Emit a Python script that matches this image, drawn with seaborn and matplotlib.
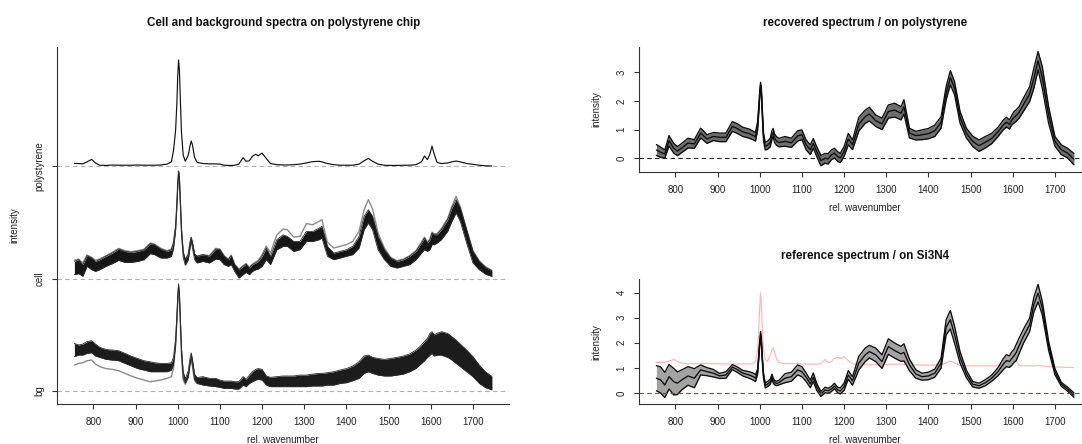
import numpy as np
import matplotlib
matplotlib.use("Agg")
import matplotlib.pyplot as plt
import seaborn as sns

# ---------------------------------------------------------------------------
# Spectral data (relative wavenumber grid shared by every series)
# ---------------------------------------------------------------------------
wavenumber = [
    755, 765, 775, 785, 796, 805, 815, 830, 845, 860,
    875, 890, 905, 920, 935, 945, 960, 975, 985, 990,
    995, 998, 1000, 1002, 1004, 1006, 1009, 1013, 1018, 1025,
    1029, 1032, 1035, 1040, 1046, 1060, 1075, 1090, 1100, 1110,
    1120, 1127, 1135, 1145, 1155, 1162, 1170, 1177, 1185, 1191,
    1200, 1210, 1220, 1235, 1250, 1260, 1275, 1290, 1305, 1320,
    1335, 1342, 1355, 1370, 1385, 1400, 1415, 1430, 1442, 1452,
    1462, 1475, 1490, 1505, 1520, 1535, 1550, 1565, 1578, 1585,
    1592, 1598, 1603, 1608, 1615, 1625, 1640, 1650, 1660, 1670,
    1685, 1700, 1715, 1730, 1745]

# polystyrene chip spectrum (normalised)
polystyrene = [
    0.027, 0.025, 0.022, 0.040, 0.062, 0.030, 0.010, 0.008, 0.012, 0.010,
    0.010, 0.010, 0.012, 0.010, 0.010, 0.010, 0.012, 0.020, 0.040, 0.140,
    0.320, 0.560, 0.800, 0.946, 0.860, 0.620, 0.300, 0.100, 0.045, 0.100,
    0.180, 0.225, 0.190, 0.080, 0.035, 0.025, 0.022, 0.022, 0.020, 0.010,
    0.008, 0.008, 0.010, 0.020, 0.077, 0.045, 0.050, 0.090, 0.107, 0.095,
    0.118, 0.070, 0.025, 0.015, 0.012, 0.012, 0.015, 0.020, 0.030, 0.042,
    0.045, 0.040, 0.025, 0.015, 0.010, 0.010, 0.010, 0.020, 0.050, 0.071,
    0.045, 0.020, 0.010, 0.008, 0.008, 0.010, 0.010, 0.015, 0.040, 0.092,
    0.060, 0.110, 0.180, 0.110, 0.035, 0.025, 0.030, 0.040, 0.047, 0.040,
    0.025, 0.018, 0.010, 0.005, 0.003]

# cell spectra: envelope of the bulk of the spectra plus one deviating spectrum
cell_upper = [
    0.154, 0.169, 0.125, 0.205, 0.184, 0.154, 0.169, 0.200, 0.228, 0.264,
    0.243, 0.234, 0.243, 0.258, 0.312, 0.303, 0.264, 0.243, 0.258, 0.320,
    0.470, 0.680, 0.850, 0.960, 0.900, 0.720, 0.440, 0.240, 0.170, 0.220,
    0.320, 0.370, 0.320, 0.220, 0.200, 0.214, 0.200, 0.264, 0.258, 0.200,
    0.170, 0.205, 0.125, 0.080, 0.110, 0.130, 0.095, 0.125, 0.140, 0.154,
    0.200, 0.273, 0.200, 0.347, 0.390, 0.377, 0.332, 0.332, 0.420, 0.420,
    0.450, 0.466, 0.288, 0.228, 0.243, 0.258, 0.288, 0.377, 0.555, 0.614,
    0.555, 0.377, 0.258, 0.184, 0.154, 0.169, 0.200, 0.243, 0.318, 0.362,
    0.318, 0.347, 0.407, 0.392, 0.392, 0.436, 0.525, 0.629, 0.703, 0.629,
    0.436, 0.243, 0.154, 0.100, 0.070]
cell_lower = [
    0.036, 0.045, 0.021, 0.110, 0.080, 0.065, 0.080, 0.110, 0.134, 0.163,
    0.145, 0.145, 0.154, 0.169, 0.223, 0.214, 0.184, 0.184, 0.199, 0.270,
    0.430, 0.640, 0.810, 0.940, 0.860, 0.680, 0.390, 0.190, 0.120, 0.170,
    0.270, 0.330, 0.270, 0.170, 0.140, 0.154, 0.140, 0.175, 0.169, 0.125,
    0.110, 0.125, 0.065, 0.006, 0.036, 0.056, 0.036, 0.065, 0.080, 0.086,
    0.110, 0.170, 0.125, 0.258, 0.288, 0.288, 0.243, 0.258, 0.332, 0.332,
    0.347, 0.362, 0.200, 0.169, 0.184, 0.200, 0.214, 0.273, 0.436, 0.496,
    0.436, 0.258, 0.169, 0.110, 0.095, 0.110, 0.125, 0.169, 0.228, 0.258,
    0.243, 0.258, 0.303, 0.303, 0.318, 0.347, 0.421, 0.510, 0.585, 0.510,
    0.318, 0.140, 0.080, 0.040, 0.020]
cell_outlier = [
    0.165, 0.175, 0.140, 0.210, 0.190, 0.165, 0.175, 0.205, 0.235, 0.270,
    0.250, 0.240, 0.250, 0.262, 0.318, 0.308, 0.270, 0.250, 0.262, 0.325,
    0.460, 0.670, 0.840, 0.955, 0.890, 0.710, 0.430, 0.230, 0.165, 0.215,
    0.315, 0.365, 0.315, 0.215, 0.200, 0.215, 0.205, 0.270, 0.265, 0.205,
    0.175, 0.210, 0.130, 0.085, 0.115, 0.135, 0.100, 0.130, 0.150, 0.165,
    0.215, 0.290, 0.230, 0.390, 0.442, 0.436, 0.370, 0.377, 0.490, 0.480,
    0.510, 0.525, 0.323, 0.273, 0.288, 0.303, 0.332, 0.421, 0.614, 0.703,
    0.620, 0.407, 0.273, 0.190, 0.160, 0.175, 0.205, 0.250, 0.325, 0.370,
    0.325, 0.355, 0.415, 0.400, 0.400, 0.445, 0.535, 0.645, 0.733, 0.640,
    0.440, 0.250, 0.160, 0.105, 0.075]

# background spectra
bg_upper = [
    0.424, 0.410, 0.418, 0.440, 0.448, 0.418, 0.389, 0.370, 0.365, 0.359,
    0.335, 0.310, 0.290, 0.270, 0.260, 0.252, 0.246, 0.246, 0.252, 0.300,
    0.470, 0.680, 0.850, 0.955, 0.880, 0.680, 0.380, 0.170, 0.110, 0.180,
    0.290, 0.340, 0.280, 0.150, 0.120, 0.128, 0.113, 0.113, 0.098, 0.089,
    0.089, 0.089, 0.083, 0.083, 0.128, 0.104, 0.142, 0.172, 0.193, 0.200,
    0.193, 0.134, 0.122, 0.128, 0.134, 0.134, 0.134, 0.142, 0.142, 0.151,
    0.157, 0.157, 0.163, 0.172, 0.187, 0.200, 0.223, 0.261, 0.312, 0.320,
    0.300, 0.290, 0.282, 0.290, 0.300, 0.312, 0.330, 0.365, 0.410, 0.440,
    0.469, 0.513, 0.528, 0.500, 0.513, 0.528, 0.513, 0.484, 0.454, 0.418,
    0.365, 0.306, 0.231, 0.170, 0.130]
bg_lower = [
    0.306, 0.320, 0.320, 0.335, 0.341, 0.312, 0.300, 0.282, 0.276, 0.270,
    0.246, 0.223, 0.200, 0.187, 0.172, 0.172, 0.172, 0.172, 0.187, 0.240,
    0.420, 0.640, 0.810, 0.940, 0.850, 0.640, 0.330, 0.120, 0.070, 0.130,
    0.240, 0.300, 0.230, 0.100, 0.070, 0.053, 0.045, 0.039, 0.033, 0.024,
    0.024, 0.024, 0.018, 0.018, 0.053, 0.039, 0.068, 0.083, 0.098, 0.104,
    0.098, 0.053, 0.039, 0.039, 0.039, 0.039, 0.039, 0.039, 0.039, 0.045,
    0.045, 0.045, 0.053, 0.053, 0.068, 0.074, 0.092, 0.113, 0.157, 0.172,
    0.157, 0.142, 0.134, 0.134, 0.142, 0.151, 0.172, 0.202, 0.246, 0.270,
    0.300, 0.320, 0.335, 0.312, 0.320, 0.320, 0.300, 0.276, 0.246, 0.217,
    0.172, 0.128, 0.068, 0.030, 0.010]
bg_outlier = [
    0.231, 0.246, 0.252, 0.270, 0.276, 0.240, 0.217, 0.200, 0.193, 0.181,
    0.157, 0.134, 0.113, 0.098, 0.083, 0.089, 0.098, 0.113, 0.128, 0.200,
    0.400, 0.620, 0.790, 0.920, 0.830, 0.620, 0.310, 0.100, 0.060, 0.120,
    0.230, 0.285, 0.220, 0.095, 0.065, 0.060, 0.055, 0.050, 0.045, 0.040,
    0.040, 0.040, 0.035, 0.035, 0.070, 0.055, 0.085, 0.100, 0.115, 0.120,
    0.115, 0.070, 0.055, 0.055, 0.055, 0.055, 0.055, 0.060, 0.060, 0.065,
    0.065, 0.065, 0.070, 0.075, 0.085, 0.095, 0.110, 0.135, 0.175, 0.190,
    0.175, 0.160, 0.150, 0.150, 0.160, 0.170, 0.190, 0.220, 0.265, 0.290,
    0.320, 0.345, 0.360, 0.335, 0.345, 0.345, 0.325, 0.300, 0.270, 0.240,
    0.195, 0.150, 0.090, 0.050, 0.030]

# recovered cell spectrum on polystyrene: mean and standard deviation
recovered_mean = [
    0.29, 0.21, 0.15, 0.61, 0.35, 0.25, 0.36, 0.53, 0.50, 0.88,
    0.67, 0.76, 0.73, 0.73, 1.11, 1.05, 0.92, 0.86, 0.79, 0.75,
    1.12, 1.75, 2.22, 2.56, 2.32, 1.65, 0.75, 0.42, 0.45, 0.55,
    0.82, 0.90, 0.70, 0.60, 0.55, 0.59, 0.54, 0.78, 0.82, 0.47,
    0.30, 0.52, 0.24, -0.08, 0.00, -0.02, 0.12, 0.18, 0.06, 0.01,
    0.24, 0.67, 0.47, 1.19, 1.45, 1.54, 1.31, 1.20, 1.63, 1.68,
    1.57, 1.79, 0.88, 0.79, 0.82, 0.86, 0.96, 1.25, 2.27, 2.81,
    2.44, 1.43, 0.88, 0.59, 0.44, 0.56, 0.69, 0.92, 1.17, 1.26,
    1.18, 1.34, 1.43, 1.49, 1.60, 1.86, 2.24, 2.79, 3.40, 2.82,
    1.51, 0.59, 0.30, 0.18, -0.03]
recovered_sd = [
    0.19, 0.18, 0.14, 0.18, 0.17, 0.16, 0.16, 0.17, 0.15, 0.17,
    0.15, 0.14, 0.15, 0.15, 0.17, 0.17, 0.16, 0.16, 0.15, 0.15,
    0.15, 0.12, 0.10, 0.09, 0.10, 0.12, 0.14, 0.13, 0.14, 0.15,
    0.15, 0.14, 0.15, 0.15, 0.15, 0.17, 0.16, 0.18, 0.17, 0.17,
    0.17, 0.17, 0.17, 0.18, 0.17, 0.18, 0.17, 0.17, 0.17, 0.16,
    0.17, 0.20, 0.17, 0.24, 0.23, 0.24, 0.20, 0.20, 0.23, 0.24,
    0.23, 0.25, 0.17, 0.15, 0.17, 0.18, 0.20, 0.20, 0.23, 0.25,
    0.23, 0.20, 0.17, 0.18, 0.20, 0.20, 0.18, 0.16, 0.17, 0.17,
    0.16, 0.17, 0.20, 0.20, 0.20, 0.23, 0.26, 0.35, 0.32, 0.38,
    0.29, 0.17, 0.17, 0.17, 0.20]

# reference cell spectrum measured on Si3N4: mean and standard deviation
reference_mean = [
    0.59, 0.52, 0.32, 0.65, 0.45, 0.39, 0.52, 0.68, 0.59, 0.92,
    0.85, 0.79, 0.68, 0.72, 1.03, 0.95, 0.79, 0.72, 0.65, 0.59,
    0.85, 1.50, 2.00, 2.30, 2.05, 1.40, 0.70, 0.30, 0.35, 0.45,
    0.65, 0.50, 0.42, 0.38, 0.42, 0.59, 0.65, 0.92, 0.85, 0.63,
    0.36, 0.63, 0.25, -0.04, 0.12, 0.09, 0.16, 0.28, 0.12, 0.08,
    0.25, 0.72, 0.48, 1.19, 1.52, 1.65, 1.52, 1.25, 1.85, 1.69,
    1.56, 1.62, 1.12, 0.76, 0.65, 0.68, 0.79, 1.19, 2.62, 2.92,
    2.32, 1.42, 0.76, 0.35, 0.29, 0.41, 0.59, 0.85, 1.16, 1.29,
    1.25, 1.38, 1.48, 1.61, 1.88, 2.25, 2.72, 3.52, 3.98, 3.38,
    1.88, 0.85, 0.35, 0.15, -0.08]
reference_sd = [
    0.50, 0.52, 0.50, 0.49, 0.53, 0.45, 0.40, 0.37, 0.38, 0.20,
    0.16, 0.15, 0.10, 0.13, 0.10, 0.11, 0.11, 0.13, 0.14, 0.14,
    0.10, 0.10, 0.10, 0.15, 0.15, 0.10, 0.10, 0.10, 0.10, 0.10,
    0.10, 0.10, 0.09, 0.09, 0.09, 0.18, 0.18, 0.20, 0.20, 0.17,
    0.15, 0.17, 0.14, 0.10, 0.11, 0.10, 0.10, 0.11, 0.11, 0.12,
    0.14, 0.17, 0.17, 0.27, 0.27, 0.25, 0.27, 0.27, 0.31, 0.30,
    0.30, 0.34, 0.23, 0.17, 0.14, 0.15, 0.16, 0.20, 0.30, 0.37,
    0.34, 0.23, 0.15, 0.11, 0.10, 0.12, 0.12, 0.16, 0.22, 0.24,
    0.23, 0.27, 0.26, 0.32, 0.31, 0.28, 0.27, 0.29, 0.35, 0.27,
    0.18, 0.12, 0.08, 0.08, 0.09]

# polystyrene spectrum on the intensity scale of the Si3N4 reference
polystyrene_overlay = [
    1.22, 1.22, 1.22, 1.27, 1.34, 1.25, 1.19, 1.16, 1.17, 1.17,
    1.17, 1.17, 1.16, 1.16, 1.16, 1.16, 1.16, 1.16, 1.17, 1.25,
    1.72, 2.60, 3.40, 4.00, 3.50, 2.60, 1.72, 1.34, 1.25, 1.52,
    1.72, 1.81, 1.65, 1.34, 1.21, 1.17, 1.17, 1.17, 1.16, 1.15,
    1.15, 1.15, 1.15, 1.16, 1.34, 1.21, 1.25, 1.38, 1.42, 1.38,
    1.45, 1.29, 1.16, 1.14, 1.13, 1.13, 1.13, 1.13, 1.14, 1.15,
    1.15, 1.14, 1.13, 1.12, 1.11, 1.11, 1.11, 1.12, 1.19, 1.28,
    1.19, 1.10, 1.08, 1.08, 1.08, 1.08, 1.08, 1.08, 1.12, 1.21,
    1.15, 1.30, 1.52, 1.30, 1.10, 1.08, 1.08, 1.08, 1.09, 1.08,
    1.06, 1.04, 1.03, 1.02, 1.01]

stack_labels = ["bg", "cell", "polystyrene"]
x_ticks = [800, 900, 1000, 1100, 1200, 1300, 1400, 1500, 1600, 1700]

# ---------------------------------------------------------------------------
# Figure
# ---------------------------------------------------------------------------
sns.set_theme(style="ticks")
plt.rcParams["font.family"] = ["Liberation Sans", "DejaVu Sans"]
plt.rcParams["axes.facecolor"] = "white"
plt.rcParams["figure.facecolor"] = "white"

W, H = 1082, 444
fig = plt.figure(figsize=(W / 100, H / 100), dpi=100)

AXIS_COLOR = "#333333"
FS = 7.0


def add_axes_px(left, top, right, bottom):
    return fig.add_axes([left / W, 1 - bottom / H, (right - left) / W, (bottom - top) / H])


def style_axes(ax, width_px, height_px, title, ylabel):
    ax.spines["top"].set_visible(False)
    ax.spines["right"].set_visible(False)
    for side in ("left", "bottom"):
        ax.spines[side].set_color(AXIS_COLOR)
        ax.spines[side].set_linewidth(0.8)
    ax.set_xlim(714.5, 1785.5)
    ax.set_xticks(x_ticks)
    ax.tick_params(axis="both", direction="out", length=3.6, width=0.8,
                   color=AXIS_COLOR, labelsize=FS, labelcolor="#222222")
    ax.tick_params(axis="x", pad=5.4)
    ax.tick_params(axis="y", pad=5.6, labelrotation=90)
    for lab in ax.get_yticklabels():
        lab.set_va("center")
    ax.set_xlabel("rel. wavenumber", fontsize=FS, color="#222222", va="center")
    ax.xaxis.set_label_coords(0.5, -36.0 / height_px)
    ax.set_ylabel(ylabel, fontsize=FS, color="#222222", va="center")
    ax.yaxis.set_label_coords(-42.5 / width_px, 0.5)
    ax.set_title(title, fontsize=8.4, fontweight="bold", color="#111111",
                 y=1 + 23.7 / height_px, va="center", pad=0)
    ax.grid(False)


x = np.asarray(wavenumber, dtype=float)


def line(ax, y, color, lw, z=3):
    sns.lineplot(x=x, y=np.asarray(y, dtype=float), ax=ax, color=color,
                 linewidth=lw, estimator=None, sort=False, legend=False, zorder=z)


# --- left: stacked cell / background / polystyrene spectra -----------------
ax_l = add_axes_px(57.3, 46.7, 509.0, 404.3)
ax_l.set_ylim(-0.118, 3.065)
for off in (0, 1, 2):
    ax_l.axhline(off, color="#b0b0b0", lw=0.8, ls=(0, (4, 3)), zorder=1)

line(ax_l, np.asarray(bg_outlier), "#8a8a8a", 1.0, z=2)
ax_l.fill_between(x, bg_lower, bg_upper, color="#1c1c1c", lw=0, zorder=3)
line(ax_l, bg_upper, "#2a2a2a", 0.6)
line(ax_l, bg_lower, "#2a2a2a", 0.6)

line(ax_l, np.asarray(cell_outlier) + 1, "#8a8a8a", 1.0, z=2)
ax_l.fill_between(x, np.asarray(cell_lower) + 1, np.asarray(cell_upper) + 1,
                  color="#161616", lw=0, zorder=3)
line(ax_l, np.asarray(cell_upper) + 1, "#2a2a2a", 0.6)
line(ax_l, np.asarray(cell_lower) + 1, "#2a2a2a", 0.6)

line(ax_l, np.asarray(polystyrene) + 2, "#111111", 0.85)

style_axes(ax_l, 509.0 - 57.3, 404.3 - 46.7,
           "Cell and background spectra on polystyrene chip", "intensity")
ax_l.set_yticks([0, 1, 2])
ax_l.set_yticklabels(stack_labels, rotation=90, va="center")

# --- right panels: mean +/- sd bands ----------------------------------------
def band(ax, mean, sd, fill):
    m = np.asarray(mean, dtype=float)
    s = np.asarray(sd, dtype=float)
    ax.fill_between(x, m - s, m + s, color=fill, lw=0, zorder=3)
    for y in (m + s, m, m - s):
        line(ax, y, "#0d0d0d", 0.95, z=4)


ax_r1 = add_axes_px(639.3, 46.7, 1091.0, 172.0)
ax_r1.set_ylim(-0.478, 3.89)
ax_r1.axhline(0, color="#222222", lw=0.8, ls=(0, (4, 3)), zorder=1)
band(ax_r1, recovered_mean, recovered_sd, "#6e6e6e")
style_axes(ax_r1, 1091.0 - 639.3, 172.0 - 46.7,
           "recovered spectrum / on polystyrene", "intensity")
ax_r1.set_yticks([0, 1, 2, 3])
ax_r1.set_yticklabels(["0", "1", "2", "3"], rotation=90, va="center")

ax_r2 = add_axes_px(639.3, 279.3, 1091.0, 404.3)
ax_r2.set_ylim(-0.45, 4.53)
line(ax_r2, polystyrene_overlay, "#ffb3b3", 0.8, z=2)
ax_r2.axhline(0, color="#6a4c4c", lw=0.8, ls=(0, (4, 3)), zorder=5)
band(ax_r2, reference_mean, reference_sd, "#a3a3a3")
style_axes(ax_r2, 1091.0 - 639.3, 404.3 - 279.3,
           "reference spectrum / on Si3N4", "intensity")
ax_r2.set_yticks([0, 1, 2, 3, 4])
ax_r2.set_yticklabels(["0", "1", "2", "3", "4"], rotation=90, va="center")

fig.savefig("out.png", dpi=100)
